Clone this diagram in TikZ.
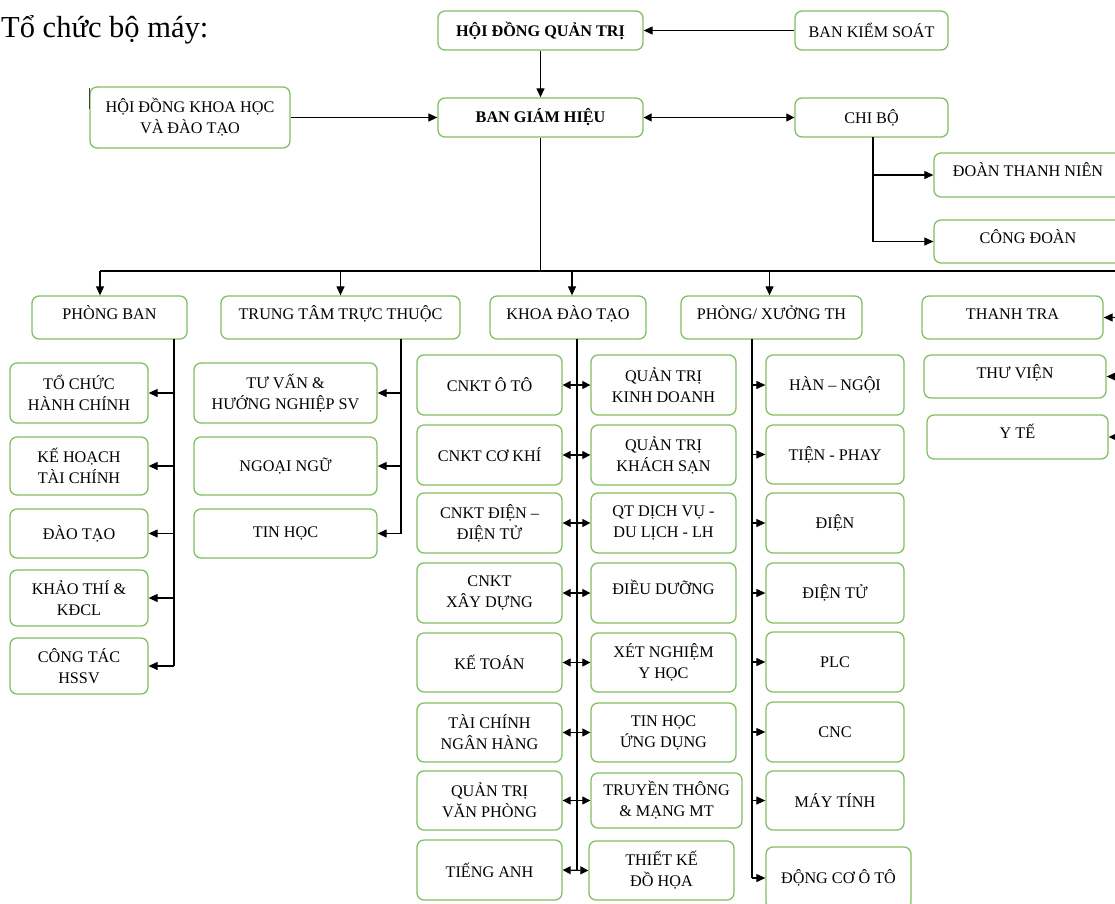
\documentclass[tikz,border=0pt]{standalone}
\usepackage{fontspec}
\setmainfont{Liberation Serif}
\usetikzlibrary{arrows.meta,calc}
\definecolor{boxgreen}{RGB}{130,192,98}
\tikzset{
  obox/.style={draw=boxgreen, line width=1.3pt, rounded corners=7pt, align=center,
    font=\fontsize{16.2}{21}\selectfont, inner sep=1pt, text=black},
  hi/.style={text height=12pt, text depth=9pt},
  conn/.style={line width=1.15pt, black},
  arr/.style={conn, -{Triangle[length=9pt,width=8pt]}},
  darr/.style={conn, {Triangle[length=8pt,width=8pt]}-{Triangle[length=8pt,width=8pt]}},
}
\newcommand\bx[7][]{\node[obox, #1, minimum width={(#5-#3)*1pt}, minimum height={(#6-#4)*1pt}] (#2) at ({(#3+#5)/2},{(#4+#6)/2}) {#7};}
\begin{document}
\begin{tikzpicture}[x=1pt,y=-1pt]
\useasboundingbox (0,0) rectangle (1115,903);
\fill[white] (0,0) rectangle (1115,903);
\node[anchor=base west, font=\fontsize{30.5}{33}\selectfont, inner sep=0pt] (title) at (1,37) {Tổ chức bộ máy:};
% top
\bx{hdqt}{438}{11}{643}{50}{\textbf{HỘI ĐỒNG QUẢN TRỊ}}
\bx{bks}{795}{11}{948}{50}{BAN KIỂM SOÁT}
\bx{hdkh}{90}{87}{290}{148}{HỘI ĐỒNG KHOA HỌC\\VÀ ĐÀO TẠO}
\bx{bgh}{438}{98}{643}{137}{\textbf{BAN GIÁM HIỆU}}
\bx{chibo}{795}{98}{948}{137}{CHI BỘ}
\bx[hi]{dtn}{934}{153}{1122}{197}{ĐOÀN THANH NIÊN}
\bx[hi]{cd}{934}{220}{1122}{263}{CÔNG ĐOÀN}
\draw[line width=1.6pt, black!75] ($(hdkh.north west)+(0,2)$) -- ++(0,21);
\draw[arr] (bks) -- (hdqt);
\draw[arr] (hdqt) -- (bgh);
\draw[arr] (hdkh) -- (bgh);
\draw[darr] (bgh) -- (chibo);
\coordinate (cbv) at (873,137);
\draw[conn] (cbv) -- (cbv |- cd);
\draw[arr] (cbv |- dtn) -- (dtn.west);
\draw[arr] (cbv |- cd) -- (cd.west);
% level 3
\bx[hi]{pb}{32}{296}{187}{339}{PHÒNG BAN}
\bx[hi]{ttt}{221}{296}{460}{339}{TRUNG TÂM TRỰC THUỘC}
\bx[hi]{kdt}{490}{296}{646}{339}{KHOA ĐÀO TẠO}
\bx[hi]{pxt}{681}{296}{862}{339}{PHÒNG/ XƯỞNG TH}
\bx[hi]{tt}{922}{296}{1103}{339}{THANH TRA}
\bx[hi]{tv}{924}{355}{1106}{398}{THƯ VIỆN}
\bx[hi]{yt}{927}{415}{1108}{459}{Y TẾ}
\coordinate (busL) at (100,271);
\coordinate (busR) at (1115,271);
\draw[conn] (bgh.south) -- (bgh.south |- busL);
\draw[conn] (busL) -- (busR);
\draw[arr] (busL) -- (busL |- pb.north);
\draw[arr] (ttt.north |- busL) -- (ttt.north);
\draw[arr] ($(kdt.north |- busL)+(4,0)$) -- ($(kdt.north)+(4,0)$);
\draw[arr] ($(pxt.north |- busL)+(-2,0)$) -- ($(pxt.north)+(-2,0)$);
\draw[arr] (busR |- tt) -- (tt.east);
\draw[arr] (busR |- tv) -- (tv.east);
\draw[arr] (busR |- yt) -- (yt.east);
% phong ban
\bx{tchc}{10}{363}{148}{423}{TỔ CHỨC\\HÀNH CHÍNH}
\bx{khtc}{10}{437}{148}{495}{KẾ HOẠCH\\TÀI CHÍNH}
\bx{dt}{10}{509}{148}{558}{ĐÀO TẠO}
\bx{kt}{10}{570}{148}{626}{KHẢO THÍ \&\\KĐCL}
\bx{ct}{10}{638}{148}{694}{CÔNG TÁC\\HSSV}
\coordinate (pbv) at (174,339);
\draw[conn] (pbv) -- (pbv |- ct);
\foreach \n in {tchc,khtc,dt,kt,ct} \draw[arr] (pbv |- \n) -- (\n.east);
% trung tam
\bx{tv2}{194}{363}{377}{423}{TƯ VẤN \&\\HƯỚNG NGHIỆP SV}
\bx{nn}{194}{437}{377}{495}{NGOẠI NGỮ}
\bx{th}{194}{509}{377}{558}{TIN HỌC}
\coordinate (ttv) at (401,339);
\draw[conn] (ttv) -- (ttv |- th);
\foreach \n in {tv2,nn,th} \draw[arr] (ttv |- \n) -- (\n.east);
% khoa
\bx{l1}{417}{355}{562}{415}{CNKT Ô TÔ}
\bx{l2}{417}{425}{562}{485}{CNKT CƠ KHÍ}
\bx{l3}{417}{493}{562}{553}{CNKT ĐIỆN –\\ĐIỆN TỬ}
\bx{l4}{417}{563}{562}{623}{CNKT\\XÂY DỰNG}
\bx{l5}{417}{633}{562}{692}{KẾ TOÁN}
\bx{l6}{417}{703}{562}{762}{TÀI CHÍNH\\NGÂN HÀNG}
\bx{l7}{417}{771}{562}{830}{QUẢN TRỊ\\VĂN PHÒNG}
\bx{l8}{417}{840}{562}{900}{TIẾNG ANH}
\bx{r1}{591}{355}{736}{415}{QUẢN TRỊ\\KINH DOANH}
\bx{r2}{591}{425}{736}{485}{QUẢN TRỊ\\KHÁCH SẠN}
\bx{r3}{591}{493}{736}{553}{QT DỊCH VỤ -\\DU LỊCH - LH}
\bx[hi]{r4}{591}{563}{736}{623}{ĐIỀU DƯỠNG}
\bx{r5}{591}{633}{736}{692}{XÉT NGHIỆM\\Y HỌC}
\bx{r6}{591}{703}{736}{762}{TIN HỌC\\ỨNG DỤNG}
\bx{r7}{591}{773}{742}{828}{TRUYỀN THÔNG\\\& MẠNG MT}
\bx{r8}{589}{841}{734}{900}{THIẾT KẾ\\ĐỒ HỌA}
\coordinate (kv) at (577,339);
\draw[conn] (kv) -- (kv |- l8);
\foreach \i in {1,...,8} \draw[darr] (l\i.east) -- (r\i.west);
% phong xuong
\bx{p1}{766}{355}{904}{415}{HÀN – NGỘI}
\bx{p2}{766}{425}{904}{484}{TIỆN - PHAY}
\bx{p3}{766}{493}{904}{553}{ĐIỆN}
\bx{p4}{766}{563}{904}{623}{ĐIỆN TỬ}
\bx{p5}{766}{632}{904}{692}{PLC}
\bx{p6}{766}{702}{904}{762}{CNC}
\bx{p7}{766}{771}{904}{830}{MÁY TÍNH}
\bx{p8}{766}{847}{911}{909}{ĐỘNG CƠ Ô TÔ}
\coordinate (pv) at (752,339);
\draw[conn] (pv) -- (pv |- p8);
\foreach \i in {1,...,8} \draw[arr] (pv |- p\i) -- (p\i.west);
\end{tikzpicture}
\end{document}
